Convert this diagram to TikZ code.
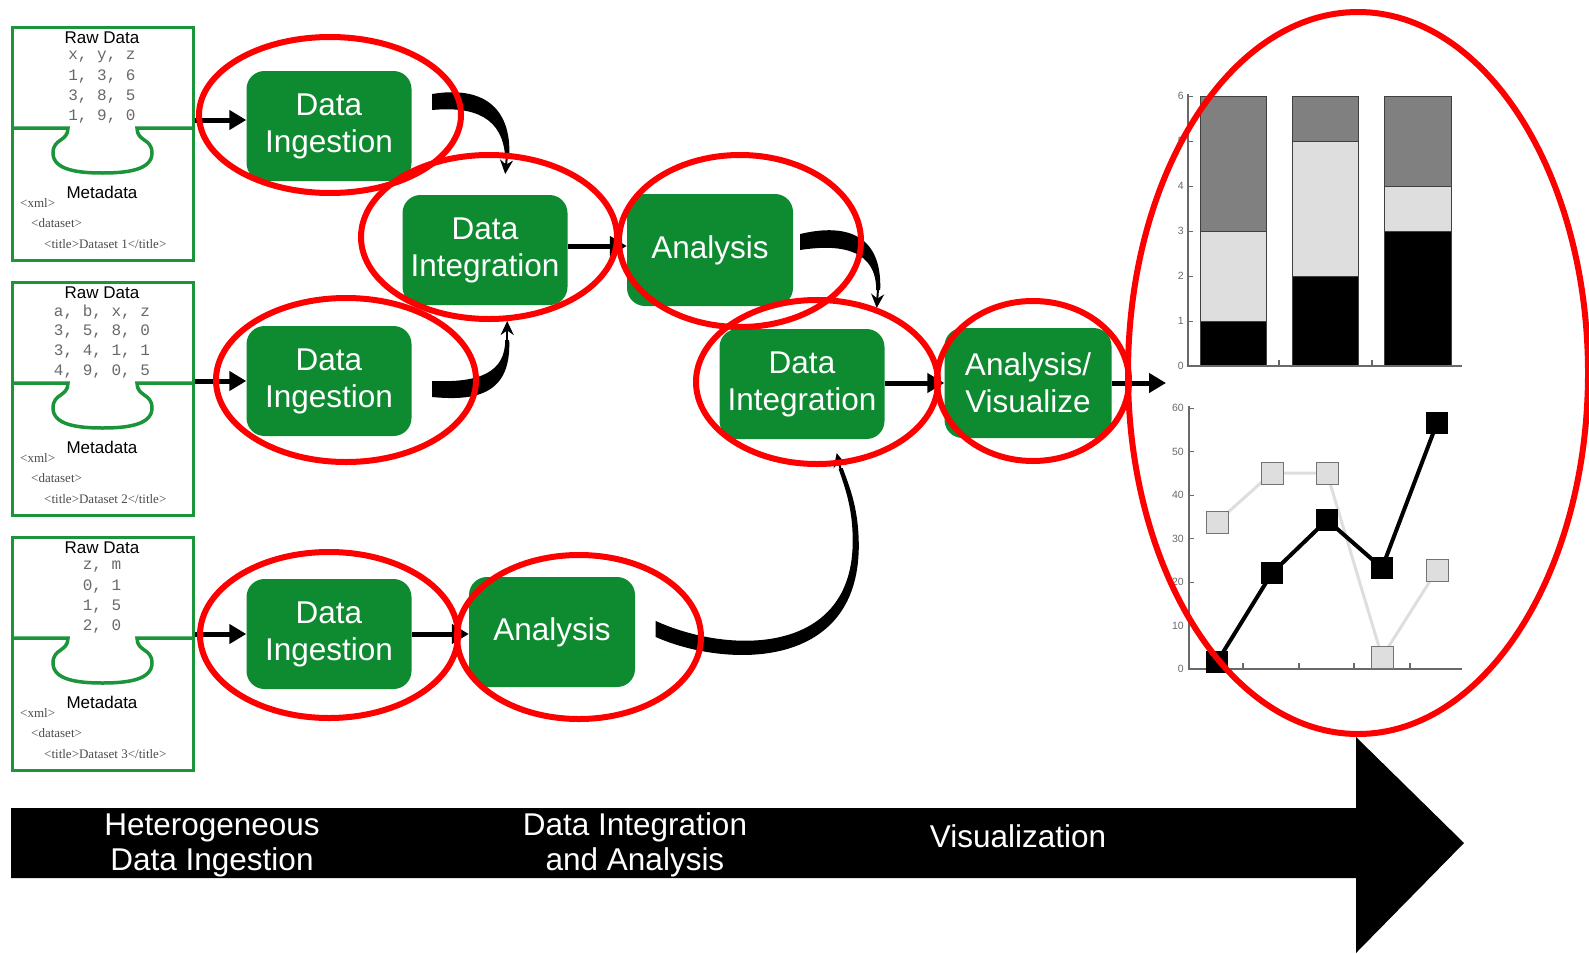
\documentclass[tikz,border=0pt]{standalone}
\usepackage{fontspec}
\setmainfont{Liberation Sans}
\setmonofont{Liberation Mono}
\newfontfamily\xmlfont{Liberation Serif}
\usetikzlibrary{arrows.meta,shapes.geometric}
\definecolor{boxgreen}{RGB}{14,138,48}
\definecolor{framegreen}{RGB}{28,148,58}
\definecolor{ringred}{RGB}{255,0,0}
\definecolor{darkbar}{RGB}{128,128,128}
\definecolor{lightbar}{RGB}{222,222,222}
\definecolor{axisgray}{RGB}{105,105,105}
\definecolor{rowgray}{RGB}{105,105,105}

\tikzset{
  dbox/.style={draw=framegreen, line width=3pt, minimum width=181pt, minimum height=233pt, inner sep=0pt, fill=white},
  dline/.style={draw=framegreen, line width=3.5pt},
  rawt/.style={inner sep=0pt, font=\fontsize{17}{19}\selectfont},
  rowt/.style={inner sep=0pt, text=rowgray, font=\ttfamily\fontsize{16}{18}\selectfont},
  xmlt/.style={inner sep=0pt, anchor=west, text=black!70, font=\xmlfont\fontsize{13}{15}\selectfont},
  gbox/.style={fill=boxgreen, rounded corners=18pt, minimum width=165pt, minimum height=110pt, text=white, font=\fontsize{31.5}{37}\selectfont, align=center, inner sep=0pt},
  ring/.style={ellipse, draw=ringred, line width=6pt, inner sep=0pt},
  arr/.style={line width=5pt, -{Triangle[length=17pt,width=19pt]}},
  taper/.style={fill=black},
  thinhead/.style={line width=2pt, -{Stealth[length=14pt,width=13pt]}},
  bartext/.style={text=white, align=center, font=\fontsize{31.5}{35}\selectfont, inner sep=0pt},
  ticklab/.style={text=axisgray, inner sep=0pt, anchor=east, font=\fontsize{10.5}{11}\selectfont},
  axisl/.style={draw=axisgray, line width=1.6pt},
  barseg/.style={draw=black!75, line width=1pt},
}

\newcommand\databox[7]{%
  \begin{scope}[yshift=-#2pt]
    \node[dbox] (box#1) at (102.5,143.5) {};
    \draw[dline] (12,128) -- (68,128) .. controls (68,142) and (53,138) .. (53,153)
      .. controls (53,170) and (78,173) .. (102.5,173) .. controls (127,173) and (152,170) .. (152,153)
      .. controls (152,138) and (137,142) .. (137,128) -- (193,128);
    \node[rawt] (raw#1) at (102,38) {Raw Data};
    \node[rowt] (rowa#1) at (102,57) {#3};
    \node[rowt] (rowb#1) at (102,77) {#4};
    \node[rowt] (rowc#1) at (102,97) {#5};
    \node[rowt] (rowd#1) at (102,117) {#6};
    \node[rawt] (meta#1) at (102,192) {Metadata};
    \node[xmlt] (xmla#1) at (20,203) {<xml>};
    \node[xmlt] (xmlb#1) at (31,223) {<dataset>};
    \node[xmlt] (xmlc#1) at (44,244) {<title>Dataset #7</title>};
  \end{scope}}

\begin{document}
\begin{tikzpicture}[x=1pt,y=-1pt]
\useasboundingbox (0,0) rectangle (1589,953);
\fill[white] (0,0) rectangle (1589,953);

% ---------- bottom big arrow ----------
\fill[black] (11,808) -- (1356,808) -- (1356,737) -- (1464,843) -- (1356,953) -- (1356,878) -- (11,878) -- cycle;
\node[bartext] (lab1) at (212,845) {Heterogeneous\\Data Ingestion};
\node[bartext] (lab2) at (635,845) {Data Integration\\and Analysis};
\node[bartext] (lab3) at (1018,836) {Visualization};

% ---------- data boxes ----------
\databox{1}{0}{x, y, z}{1, 3, 6}{3, 8, 5}{1, 9, 0}{1}
\databox{2}{255}{a, b, x, z}{3, 5, 8, 0}{3, 4, 1, 1}{4, 9, 0, 5}{2}
\databox{3}{510}{z, m}{0, 1}{1, 5}{2, 0}{3}

% ---------- process boxes ----------
\node[gbox] (di1) at (329,126) {Data\\Ingestion};
\node[gbox] (dint1) at (485,250) {Data\\Integration};
\node[gbox, minimum width=166pt, minimum height=112pt] (an1) at (710,250) {Analysis};
\node[gbox] (di2) at (329,381) {Data\\Ingestion};
\node[gbox] (dint2) at (802,384) {Data\\Integration};
\node[gbox, minimum width=167pt] (av) at (1028,383) {Analysis/\\Visualize};
\node[gbox] (di3) at (329,634) {Data\\Ingestion};
\node[gbox, minimum width=166pt] (an2) at (552,632) {Analysis};

% ---------- straight arrows ----------
\draw[arr] (box1.east |- 0,120) -- (di1.west |- 0,120);
\draw[arr] (box2.east |- 0,381) -- (di2.west |- 0,381);
\draw[arr] (box3.east |- 0,634) -- (di3.west |- 0,634);
\draw[arr] (di3.east |- 0,634) -- (an2.west |- 0,634);
\draw[arr] (dint1.east |- 0,246) -- (an1.west |- 0,246);
\draw[arr] (dint2.east |- 0,383) -- (av.west |- 0,383);
\coordinate (avout) at (1166,383);
\draw[arr] (av.east |- 0,383) -- (avout);

% ---------- tapered curved arrows ----------
% di1 -> dint1
\fill[taper, shift={(di1.east)}] (20.5,-32) .. controls (68.5,-40) and (100.5,-21) .. (97.5,32)
  -- (93.5,32) .. controls (91.5,-8) and (63.5,-20) .. (20.5,-16) -- cycle;
\draw[thinhead, shift={(di1.east)}] (95.5,27) -- (93.5,48);
% di2 -> dint1
\fill[taper, shift={(di2.east)}] (20.5,16) .. controls (70.5,21) and (99.5,9) .. (97.5,-41)
  -- (93.5,-41) .. controls (93.5,-9) and (68.5,2) .. (20.5,0) -- cycle;
\draw[thinhead, shift={(di2.east)}] (95.5,-36) -- (95.5,-60);
% an1 -> dint2
\fill[taper, shift={(an1.east)}] (7,-16) .. controls (57,-28) and (89,-12) .. (87,40)
  -- (83,40) .. controls (83,2) and (52,-7) .. (7,0) -- cycle;
\draw[thinhead, shift={(an1.east)}] (85,36) -- (83.5,58);
% an2 -> dint2
\fill[taper, shift={(an2.east)}] (20.5,5) .. controls (90.5,36) and (227.5,40) .. (223.5,-92)
  .. controls (222.5,-127) and (213.5,-147) .. (207.5,-164)
  -- (203.5,-163) .. controls (209.5,-145) and (217.5,-124) .. (217.5,-92)
  .. controls (218.5,23) and (95.5,23) .. (20.5,-11) -- cycle;
\draw[thinhead, shift={(an2.east)}] (206.5,-158) -- (201.5,-179);

% ---------- bar chart ----------
\foreach \v in {0,...,6} {
  \draw[axisl, line width=1pt] (1188,366-45*\v) -- (1193,366-45*\v);
  \node[ticklab] (bt\v) at (1184,366-45*\v) {\v};
}
% bar 1
\filldraw[barseg, fill=black] (1200,366) rectangle (1266,321);
\filldraw[barseg, fill=lightbar] (1200,321) rectangle (1266,231);
\filldraw[barseg, fill=darkbar] (1200,231) rectangle (1266,96);
% bar 2
\filldraw[barseg, fill=black] (1292,366) rectangle (1358,276);
\filldraw[barseg, fill=lightbar] (1292,276) rectangle (1358,141);
\filldraw[barseg, fill=darkbar] (1292,141) rectangle (1358,96);
% bar 3
\filldraw[barseg, fill=black] (1384,366) rectangle (1451,231);
\filldraw[barseg, fill=lightbar] (1384,231) rectangle (1451,186);
\filldraw[barseg, fill=darkbar] (1384,186) rectangle (1451,96);
\draw[axisl] (1188,94) -- (1188,366) -- (1462,366);
\draw[axisl] (1279,366) -- (1279,360);
\draw[axisl] (1372,366) -- (1372,360);

% ---------- line chart ----------
\foreach \v in {0,10,...,60} {
  \draw[axisl, line width=1pt] (1189,669-4.35*\v) -- (1194,669-4.35*\v);
  \node[ticklab] (lt\v) at (1184,669-4.35*\v) {\v};
}
\draw[axisl] (1189,406) -- (1189,669) -- (1462,669);
\foreach \x in {1243,1299,1354,1410} { \draw[axisl] (\x,669) -- (\x,663); }
\draw[lightbar, line width=3pt] (1217,522) -- (1272,473) -- (1327,473) -- (1382,657) -- (1437,570);
\foreach \x/\y in {1217/522,1272/473,1327/473,1382/657,1437/570} {
  \filldraw[fill=lightbar, draw=black!55, line width=1pt] (\x-11,\y-11) rectangle (\x+11,\y+11);
}
\draw[black, line width=4pt] (1217,662) -- (1272,573) -- (1327,520) -- (1382,568) -- (1437,423);
\foreach \x/\y in {1217/662,1272/573,1327/520,1382/568,1437/423} {
  \fill[black] (\x-11,\y-11) rectangle (\x+11,\y+11);
}

% ---------- red rings ----------
\node[ring, minimum width=262pt, minimum height=156pt] (r1) at (330,115) {};
\node[ring, minimum width=256pt, minimum height=164pt] (r2) at (489,237) {};
\node[ring, minimum width=242pt, minimum height=172pt] (r3) at (740,241) {};
\node[ring, minimum width=260pt, minimum height=164pt] (r4) at (346,380) {};
\node[ring, minimum width=242pt, minimum height=164pt] (r5) at (817,382) {};
\node[ring, minimum width=192pt, minimum height=160pt] (r6) at (1033,381) {};
\node[ring, minimum width=258pt, minimum height=166pt] (r7) at (329,635) {};
\node[ring, minimum width=244pt, minimum height=164pt] (r8) at (579,637) {};
\node[ring, minimum width=460pt, minimum height=722pt] (r9) at (1358,373) {};
\end{tikzpicture}
\end{document}
